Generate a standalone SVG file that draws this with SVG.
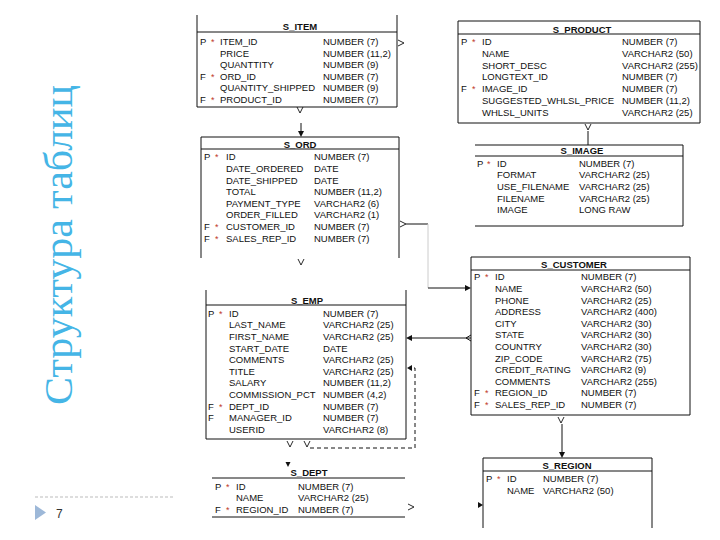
<svg xmlns="http://www.w3.org/2000/svg" width="720" height="540" viewBox="0 0 720 540">
<style>
.t{font-family:"Liberation Sans",Arial,sans-serif;font-size:9.5px;fill:#111}
.h{font-family:"Liberation Sans",Arial,sans-serif;font-size:9.5px;font-weight:bold;fill:#111;text-anchor:middle}
.s{font-family:"Liberation Sans",Arial,sans-serif;font-size:9px;fill:#c0392b}
.b{fill:none;stroke:#111;stroke-width:1}
.c{fill:none;stroke:#111;stroke-width:1}
.f{fill:#111;stroke:none}
</style>
<defs>
<path id="vmark" d="M-3,-3 L0,3 L3,-3" fill="none" stroke="#111" stroke-width="0.9"/>
<path id="gt" d="M-3,-3 L3,0 L-3,3" fill="none" stroke="#111" stroke-width="0.9"/>
</defs>
<rect width="720" height="540" fill="#fff"/>

<text transform="translate(72,405) rotate(-90)" font-family="Liberation Serif,Times New Roman,serif" font-size="40" fill="#45b5e6" textLength="320" lengthAdjust="spacingAndGlyphs">Структура таблиц</text>

<g id="footer">
<line x1="35" y1="497" x2="175" y2="497" stroke="#bbb" stroke-width="1" stroke-dasharray="3,2"/>
<polygon points="35,505 35,520 46,512.5" fill="#9db8d8"/>
<text x="56" y="518" font-family="Liberation Sans,Arial,sans-serif" font-size="12" fill="#333">7</text>
</g>

<g id="s_item">
<path class="b" d="M197,15 V107 H397 V15 M197,32 H397"/>
<text class="h" x="300" y="29.5">S_ITEM</text>
<text class="t" x="200" y="45.3">P</text><text class="s" x="211" y="45.3">*</text><text class="t" x="220" y="45.3">ITEM_ID</text><text class="t" x="323" y="45.3">NUMBER (7)</text>
<text class="t" x="220" y="56.8">PRICE</text><text class="t" x="323" y="56.8">NUMBER (11,2)</text>
<text class="t" x="220" y="68.3">QUANTTITY</text><text class="t" x="323" y="68.3">NUMBER (9)</text>
<text class="t" x="200" y="79.8">F</text><text class="s" x="211" y="79.8">*</text><text class="t" x="220" y="79.8">ORD_ID</text><text class="t" x="323" y="79.8">NUMBER (7)</text>
<text class="t" x="220" y="91.3">QUANTITY_SHIPPED</text><text class="t" x="323" y="91.3">NUMBER (9)</text>
<text class="t" x="200" y="102.8">F</text><text class="s" x="211" y="102.8">*</text><text class="t" x="220" y="102.8">PRODUCT_ID</text><text class="t" x="323" y="102.8">NUMBER (7)</text>
</g>

<g id="s_product">
<path class="b" d="M458,21 H700 V123 H458 Z M458,34 H700"/>
<text class="h" x="582" y="32.5">S_PRODUCT</text>
<text class="t" x="461" y="45.3">P</text><text class="s" x="472" y="45.3">*</text><text class="t" x="482" y="45.3">ID</text><text class="t" x="622" y="45.3">NUMBER (7)</text>
<text class="t" x="482" y="57">NAME</text><text class="t" x="622" y="57">VARCHAR2 (50)</text>
<text class="t" x="482" y="68.7">SHORT_DESC</text><text class="t" x="622" y="68.7">VARCHAR2 (255)</text>
<text class="t" x="482" y="80.4">LONGTEXT_ID</text><text class="t" x="622" y="80.4">NUMBER (7)</text>
<text class="t" x="461" y="92.1">F</text><text class="s" x="472" y="92.1">*</text><text class="t" x="482" y="92.1">IMAGE_ID</text><text class="t" x="622" y="92.1">NUMBER (7)</text>
<text class="t" x="482" y="103.8">SUGGESTED_WHLSL_PRICE</text><text class="t" x="622" y="103.8">NUMBER (11,2)</text>
<text class="t" x="482" y="115.5">WHLSL_UNITS</text><text class="t" x="622" y="115.5">VARCHAR2 (25)</text>
</g>

<g id="s_ord">
<path class="b" d="M201,258 V137 H399 V258 M201,149 H399"/>
<text class="h" x="300" y="147.5">S_ORD</text>
<text class="t" x="204" y="160.3">P</text><text class="s" x="215" y="160.3">*</text><text class="t" x="226" y="160.3">ID</text><text class="t" x="314" y="160.3">NUMBER (7)</text>
<text class="t" x="226" y="171.9">DATE_ORDERED</text><text class="t" x="314" y="171.9">DATE</text>
<text class="t" x="226" y="183.5">DATE_SHIPPED</text><text class="t" x="314" y="183.5">DATE</text>
<text class="t" x="226" y="195.1">TOTAL</text><text class="t" x="314" y="195.1">NUMBER (11,2)</text>
<text class="t" x="226" y="206.7">PAYMENT_TYPE</text><text class="t" x="314" y="206.7">VARCHAR2 (6)</text>
<text class="t" x="226" y="218.3">ORDER_FILLED</text><text class="t" x="314" y="218.3">VARCHAR2 (1)</text>
<text class="t" x="204" y="229.9">F</text><text class="s" x="215" y="229.9">*</text><text class="t" x="226" y="229.9">CUSTOMER_ID</text><text class="t" x="314" y="229.9">NUMBER (7)</text>
<text class="t" x="204" y="241.5">F</text><text class="s" x="215" y="241.5">*</text><text class="t" x="226" y="241.5">SALES_REP_ID</text><text class="t" x="314" y="241.5">NUMBER (7)</text>
</g>

<g id="s_image">
<path class="b" d="M475,145 H683 V226 H475 M475,156 H683"/>
<text class="h" x="582" y="154">S_IMAGE</text>
<text class="t" x="477" y="166.8">P</text><text class="s" x="487" y="166.8">*</text><text class="t" x="497" y="166.8">ID</text><text class="t" x="579" y="166.8">NUMBER (7)</text>
<text class="t" x="497" y="178.4">FORMAT</text><text class="t" x="579" y="178.4">VARCHAR2 (25)</text>
<text class="t" x="497" y="190">USE_FILENAME</text><text class="t" x="579" y="190">VARCHAR2 (25)</text>
<text class="t" x="497" y="201.6">FILENAME</text><text class="t" x="579" y="201.6">VARCHAR2 (25)</text>
<text class="t" x="497" y="213.2">IMAGE</text><text class="t" x="579" y="213.2">LONG RAW</text>
</g>

<g id="s_customer">
<path class="b" d="M471,257 H690 V415 H471 Z M471,270 H690"/>
<text class="h" x="574" y="267.5">S_CUSTOMER</text>
<text class="t" x="474" y="280.3">P</text><text class="s" x="485" y="280.3">*</text><text class="t" x="495" y="280.3">ID</text><text class="t" x="581" y="280.3">NUMBER (7)</text>
<text class="t" x="495" y="291.9">NAME</text><text class="t" x="581" y="291.9">VARCHAR2 (50)</text>
<text class="t" x="495" y="303.5">PHONE</text><text class="t" x="581" y="303.5">VARCHAR2 (25)</text>
<text class="t" x="495" y="315.1">ADDRESS</text><text class="t" x="581" y="315.1">VARCHAR2 (400)</text>
<text class="t" x="495" y="326.7">CITY</text><text class="t" x="581" y="326.7">VARCHAR2 (30)</text>
<text class="t" x="495" y="338.3">STATE</text><text class="t" x="581" y="338.3">VARCHAR2 (30)</text>
<text class="t" x="495" y="349.9">COUNTRY</text><text class="t" x="581" y="349.9">VARCHAR2 (30)</text>
<text class="t" x="495" y="361.5">ZIP_CODE</text><text class="t" x="581" y="361.5">VARCHAR2 (75)</text>
<text class="t" x="495" y="373.1">CREDIT_RATING</text><text class="t" x="581" y="373.1">VARCHAR2 (9)</text>
<text class="t" x="495" y="384.7">COMMENTS</text><text class="t" x="581" y="384.7">VARCHAR2 (255)</text>
<text class="t" x="474" y="396.3">F</text><text class="s" x="485" y="396.3">*</text><text class="t" x="495" y="396.3">REGION_ID</text><text class="t" x="581" y="396.3">NUMBER (7)</text>
<text class="t" x="474" y="407.9">F</text><text class="s" x="485" y="407.9">*</text><text class="t" x="495" y="407.9">SALES_REP_ID</text><text class="t" x="581" y="407.9">NUMBER (7)</text>
</g>

<g id="s_emp">
<path class="b" d="M206,290 V439 H406 V290 M206,305 H406"/>
<text class="h" x="307" y="303.5">S_EMP</text>
<text class="t" x="208" y="316.8">P</text><text class="s" x="219" y="316.8">*</text><text class="t" x="229" y="316.8">ID</text><text class="t" x="323" y="316.8">NUMBER (7)</text>
<text class="t" x="229" y="328.4">LAST_NAME</text><text class="t" x="323" y="328.4">VARCHAR2 (25)</text>
<text class="t" x="229" y="340">FIRST_NAME</text><text class="t" x="323" y="340">VARCHAR2 (25)</text>
<text class="t" x="229" y="351.6">START_DATE</text><text class="t" x="323" y="351.6">DATE</text>
<text class="t" x="229" y="363.2">COMMENTS</text><text class="t" x="323" y="363.2">VARCHAR2 (25)</text>
<text class="t" x="229" y="374.8">TITLE</text><text class="t" x="323" y="374.8">VARCHAR2 (25)</text>
<text class="t" x="229" y="386.4">SALARY</text><text class="t" x="323" y="386.4">NUMBER (11,2)</text>
<text class="t" x="229" y="398">COMMISSION_PCT</text><text class="t" x="323" y="398">NUMBER (4,2)</text>
<text class="t" x="208" y="409.6">F</text><text class="s" x="219" y="409.6">*</text><text class="t" x="229" y="409.6">DEPT_ID</text><text class="t" x="323" y="409.6">NUMBER (7)</text>
<text class="t" x="208" y="421.2">F</text><text class="t" x="229" y="421.2">MANAGER_ID</text><text class="t" x="323" y="421.2">NUMBER (7)</text>
<text class="t" x="229" y="432.8">USERID</text><text class="t" x="323" y="432.8">VARCHAR2 (8)</text>
</g>

<g id="s_dept">
<path class="b" d="M212,478 H405 M212,517 H405"/>
<text class="h" x="309" y="476">S_DEPT</text>
<text class="t" x="215" y="489.8">P</text><text class="s" x="226" y="489.8">*</text><text class="t" x="236" y="489.8">ID</text><text class="t" x="298" y="489.8">NUMBER (7)</text>
<text class="t" x="236" y="501.3">NAME</text><text class="t" x="298" y="501.3">VARCHAR2 (25)</text>
<text class="t" x="215" y="512.8">F</text><text class="s" x="226" y="512.8">*</text><text class="t" x="236" y="512.8">REGION_ID</text><text class="t" x="298" y="512.8">NUMBER (7)</text>
</g>

<g id="s_region">
<path class="b" d="M483,528 V458 H652 V528 M483,471 H652"/>
<text class="h" x="567" y="469">S_REGION</text>
<text class="t" x="486" y="482.3">P</text><text class="s" x="497" y="482.3">*</text><text class="t" x="507" y="482.3">ID</text><text class="t" x="543" y="482.3">NUMBER (7)</text>
<text class="t" x="507" y="494.3">NAME</text><text class="t" x="543" y="494.3">VARCHAR2 (50)</text>
</g>

<g id="connectors">
<!-- S_ITEM -> S_ORD -->
<use href="#vmark" x="300" y="110"/>
<line class="c" x1="301" y1="123" x2="301" y2="132"/>
<polygon class="f" points="298,131 304,131 301,137"/>
<!-- S_ITEM -> S_PRODUCT -->
<use href="#gt" x="401" y="43"/>
<!-- S_PRODUCT -> S_IMAGE -->
<use href="#vmark" x="588" y="127"/>
<line class="c" x1="588" y1="131" x2="588" y2="145"/>
<!-- S_ORD -> S_CUSTOMER -->
<use href="#gt" x="403" y="224"/>
<line class="c" x1="406" y1="224" x2="428" y2="224"/>
<line x1="428" y1="224" x2="428" y2="288" stroke="#ccc" stroke-width="1"/>
<line class="c" x1="428" y1="288" x2="466" y2="288"/>
<polygon class="f" points="465,285 465,291 471,288"/>
<!-- S_ORD -> S_EMP -->
<use href="#vmark" x="301" y="262"/>
<!-- S_CUSTOMER -> S_EMP -->
<line class="c" x1="411" y1="338" x2="471" y2="338"/>
<polygon class="f" points="412,335 412,341 406,338"/>
<path class="c" d="M471,335 L466,338 L471,341"/>
<!-- S_CUSTOMER -> S_REGION -->
<use href="#vmark" x="561" y="420"/>
<line class="c" x1="562" y1="424" x2="562" y2="453"/>
<polygon class="f" points="559,452 565,452 562,458"/>
<!-- S_EMP -> S_DEPT -->
<use href="#vmark" x="290" y="444"/>
<polygon class="f" points="285.5,462 290.5,462 288,467"/>
<!-- S_EMP self (manager) -->
<use href="#vmark" x="307" y="444"/>
<path d="M310,448 H415 V368 H412" fill="none" stroke="#111" stroke-width="1" stroke-dasharray="4,3"/>
<polygon class="f" points="412,365 412,371 407,368"/>
<!-- S_DEPT -> S_REGION -->
<use href="#gt" x="411" y="507"/>
<polygon class="f" points="478,502 478,508 483,505"/>
</g>
</svg>
